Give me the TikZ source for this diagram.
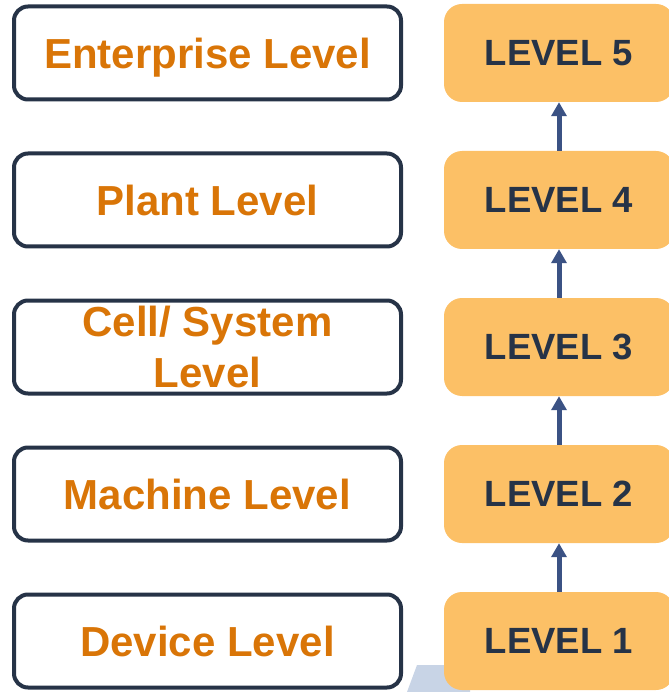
\documentclass[tikz,border=0pt]{standalone}
\usepackage{fontspec}
\setmainfont{Liberation Sans}
\usepackage{tikz}
\usetikzlibrary{arrows.meta}

\definecolor{levelorange}{HTML}{D97507}
\definecolor{boxline}{HTML}{263347}
\definecolor{tagfill}{HTML}{FCC066}
\definecolor{tagtext}{HTML}{263347}
\definecolor{arrowblue}{HTML}{3B5284}
\definecolor{stripblue}{HTML}{C8D4E6}

\begin{document}
\begin{tikzpicture}[x=1pt,y=-1pt]
    \tikzstyle{level box}=[draw=boxline, line width=4pt, rounded corners=14pt, minimum width=387pt, minimum height=93pt, inner sep=0pt, align=center, text depth=0pt, text=levelorange, font=\fontsize{42}{51}\selectfont\bfseries]
    \tikzstyle{tag box}=[fill=tagfill, rounded corners=18pt, minimum width=230pt, minimum height=98pt, inner sep=0pt, text=tagtext, font=\fontsize{36.5}{40}\selectfont\bfseries]
    \tikzstyle{up arrow}=[draw=arrowblue, line width=5pt, -{Triangle[width=15pt,length=14pt]}]
    \def\rowsep{147}

    \useasboundingbox (0,0) rectangle (668,692);

    % strip behind the lowest tag
    \fill[stripblue] (407,692) -- (417,665) -- (470,665) -- (470,692) -- cycle;

    % Draw the named levels, top to bottom
    \foreach \name/\txt [count=\i] in {5/Enterprise Level, 4/Plant Level, 3/{Cell/ System\\Level}, 2/Machine Level, 1/Device Level}
        \node[level box] (N-\name) at (207.5, {53+(\i-1)*\rowsep}) {\txt};

    % Draw the level tags
    \foreach \name [count=\i] in {5,4,3,2,1}
        \node[tag box] (L-\name) at (559, {53+(\i-1)*\rowsep}) {LEVEL \name};

    % Connect each tag with the one above it
    \foreach \source/\dest in {1/2,2/3,3/4,4/5}
        \draw[up arrow] (L-\source.north) -- (L-\dest.south);

\end{tikzpicture}
\end{document}
